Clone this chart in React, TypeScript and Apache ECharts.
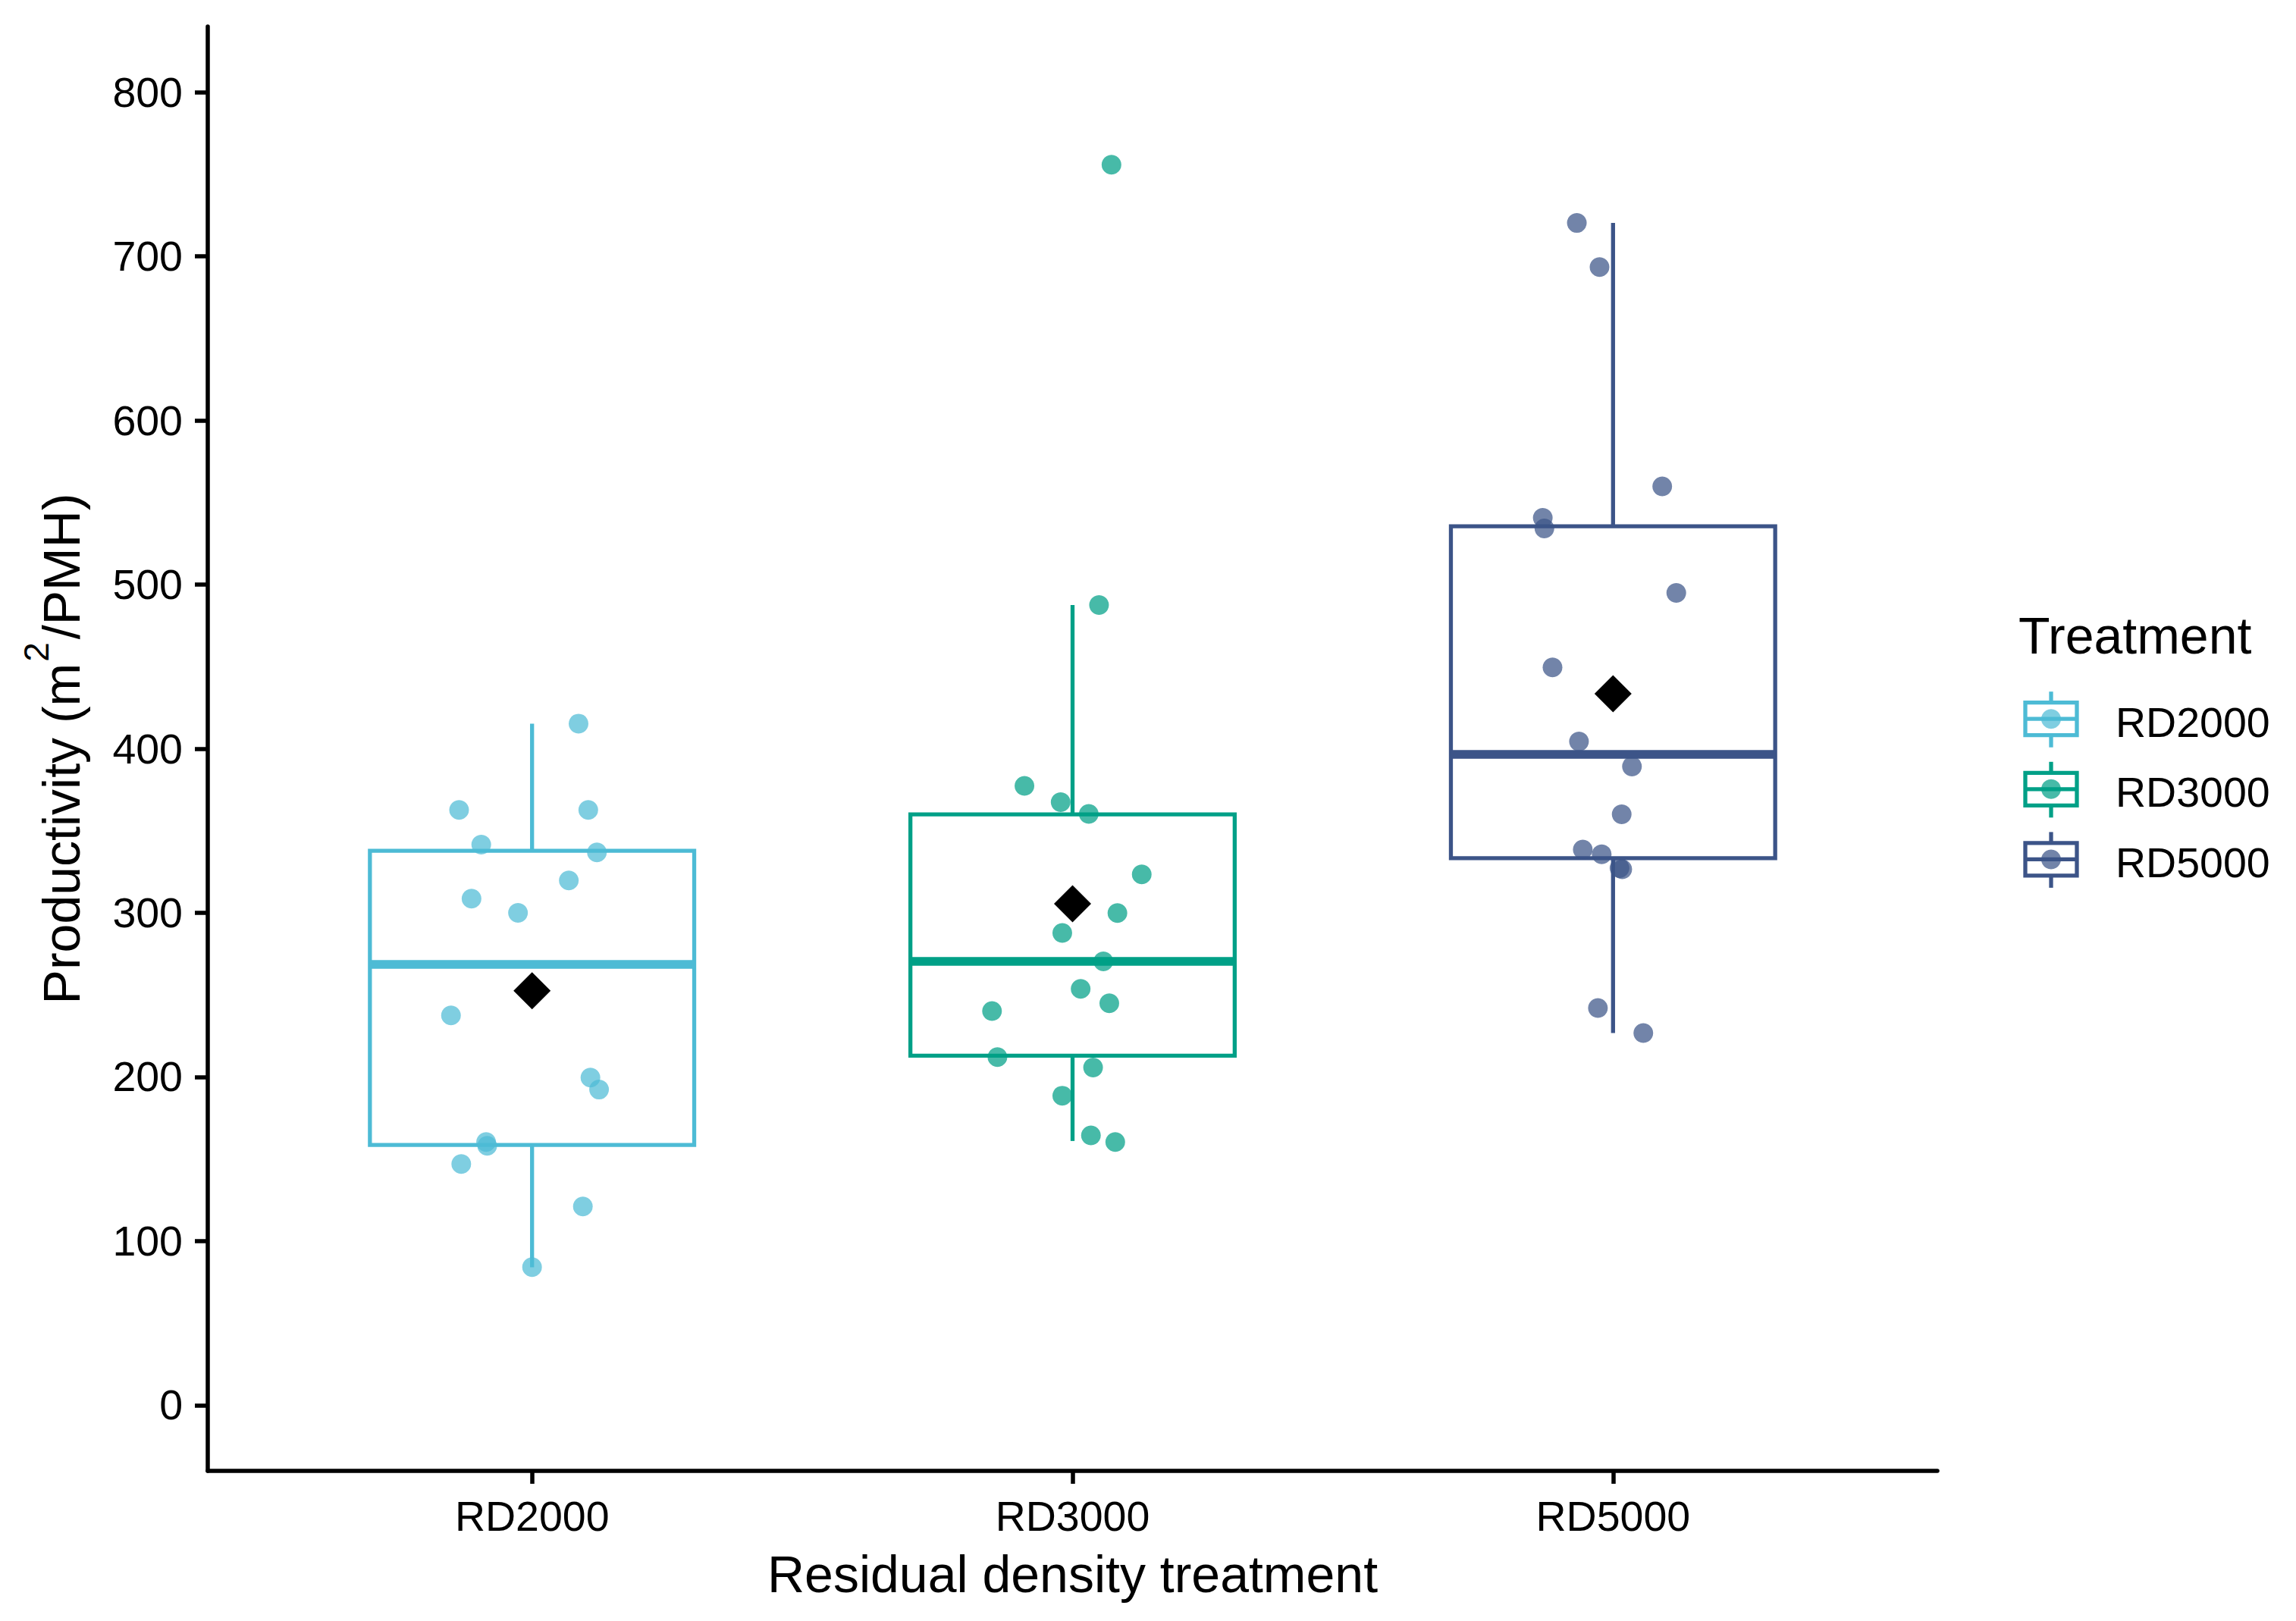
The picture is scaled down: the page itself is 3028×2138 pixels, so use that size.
import React, { useEffect, useRef } from "react";
import * as echarts from "echarts";

const FONT = '"Liberation Sans", Arial, Helvetica, sans-serif';

const categories = ["RD2000", "RD3000", "RD5000"];
const colors = ["#4DBBD5", "#00A087", "#3C5488"];
const yTicks = [0, 100, 200, 300, 400, 500, 600, 700, 800];

// box statistics: [lower whisker, Q1, median, Q3, upper whisker]
const boxRD2000 = [84, 158.6, 268.6, 337.8, 415.3];
const boxRD3000 = [161, 213, 270.4, 360, 487.5];
const boxRD5000 = [226.8, 333.3, 396.5, 535.5, 720.3];
const means = [252.5, 305.5, 433.5];

// raw observations and their horizontal jitter (category units)
const rd2000Values = [415.3, 362.7, 362.7, 341.6, 336.8, 319.7, 308.7, 300.0, 237.5, 199.6, 192.3, 160.4, 158.1, 147, 121.1, 84.2];
const rd2000Jitter = [0.086, -0.135, 0.104, -0.094, 0.12, 0.068, -0.112, -0.026, -0.15, 0.108, 0.124, -0.085, -0.083, -0.131, 0.094, 0.0];
const rd3000Values = [755.8, 487.5, 377.4, 367.4, 360.3, 323.4, 299.9, 287.8, 270.4, 253.7, 244.9, 240.2, 212.1, 205.7, 188.6, 164.4, 160.4];
const rd3000Jitter = [0.072, 0.049, -0.089, -0.022, 0.03, 0.128, 0.083, -0.019, 0.057, 0.015, 0.068, -0.149, -0.139, 0.038, -0.019, 0.034, 0.079];
const rd5000Values = [720.3, 693.4, 559.8, 540.7, 534.2, 494.9, 449.5, 404.4, 389.2, 360, 338.6, 335.7, 327.3, 326.5, 242, 226.8];
const rd5000Jitter = [-0.067, -0.025, 0.091, -0.13, -0.127, 0.117, -0.112, -0.063, 0.035, 0.016, -0.056, -0.021, 0.012, 0.017, -0.028, 0.056];

const BOX_HALF = 0.3;
const POINT_ALPHA = 0.72;

function buildOption() {
  const boxes = [boxRD2000, boxRD3000, boxRD5000];
  const boxData = boxes.map((b, i) => [i + 1, ...b]);
  const groups = [
    [rd2000Values, rd2000Jitter],
    [rd3000Values, rd3000Jitter],
    [rd5000Values, rd5000Jitter],
  ];

  const pointSeries = groups.map(([vals, jit], gi) => ({
    type: "scatter",
    name: categories[gi],
    z: 3,
    symbol: "circle",
    symbolSize: 26,
    itemStyle: { color: colors[gi], opacity: POINT_ALPHA },
    data: vals.map((v, k) => [gi + 1 + jit[k], v]),
    silent: true,
  }));

  const legendX = 2705;
  const keyCenters = [948.2, 1040.8, 1133.4];
  const legendGraphics: any[] = [
    {
      type: "text",
      z: 100,
      style: {
        text: "Treatment",
        x: 2662,
        y: 838,
        fontSize: 68,
        fontFamily: FONT,
        fill: "#000",
        align: "left",
        verticalAlign: "middle",
      },
    },
  ];
  categories.forEach((c, i) => {
    const cy = keyCenters[i];
    const col = colors[i];
    legendGraphics.push(
      { type: "line", z: 100, shape: { x1: legendX, y1: cy - 36, x2: legendX, y2: cy - 21.5 }, style: { stroke: col, lineWidth: 5.3 } },
      { type: "line", z: 100, shape: { x1: legendX, y1: cy + 21.5, x2: legendX, y2: cy + 37.5 }, style: { stroke: col, lineWidth: 5.3 } },
      { type: "rect", z: 100, shape: { x: 2671, y: cy - 21.5, width: 68, height: 43 }, style: { fill: "#fff", stroke: col, lineWidth: 5.3 } },
      { type: "line", z: 100, shape: { x1: 2671, y1: cy, x2: 2739, y2: cy }, style: { stroke: col, lineWidth: 5.3 } },
      { type: "circle", z: 101, shape: { cx: legendX, cy, r: 13 }, style: { fill: col, opacity: POINT_ALPHA } },
      {
        type: "text",
        z: 100,
        style: {
          text: c,
          x: 2790,
          y: cy + 4.3,
          fontSize: 55.5,
          fontFamily: FONT,
          fill: "#000",
          align: "left",
          verticalAlign: "middle",
        },
      }
    );
  });

  return {
    animation: false,
    backgroundColor: "#ffffff",
    grid: { left: 274, right: 473, top: 35, bottom: 198, containLabel: false },
    xAxis: {
      type: "value",
      min: 0.4,
      max: 3.6,
      name: "Residual density treatment",
      nameLocation: "middle",
      nameGap: 102,
      nameTextStyle: { fontSize: 68, fontFamily: FONT, color: "#000" },
      axisLine: { show: true, onZero: false, lineStyle: { color: "#000", width: 5.5 } },
      axisTick: { show: true, length: 17, customValues: [1, 2, 3], lineStyle: { color: "#000", width: 5.5 } },
      axisLabel: {
        show: true,
        customValues: [1, 2, 3],
        formatter: (v: number) => categories[Math.round(v) - 1] ?? "",
        margin: 32,
        fontSize: 55.5,
        fontFamily: FONT,
        color: "#000",
      },
      splitLine: { show: false },
    },
    yAxis: {
      type: "value",
      min: -40,
      max: 840,
      name: "Productivity (m{sup|2}/PMH)",
      nameLocation: "middle",
      nameGap: 136,
      nameTextStyle: {
        fontSize: 68,
        fontFamily: FONT,
        color: "#000",
        lineHeight: 68,
        rich: {
          sup: { fontSize: 46, fontFamily: FONT, color: "#000", lineHeight: 46, padding: [0, 4, 67, 2] },
        },
      },
      axisLine: { show: true, onZero: false, lineStyle: { color: "#000", width: 5.5 } },
      axisTick: { show: true, length: 17, customValues: yTicks, lineStyle: { color: "#000", width: 5.5 } },
      axisLabel: {
        show: true,
        customValues: yTicks,
        margin: 33,
        fontSize: 55.5,
        fontFamily: FONT,
        color: "#000",
        padding: [8, 0, 0, 0],
      },
      splitLine: { show: false },
    },
    graphic: legendGraphics,
    series: [
      {
        type: "custom",
        z: 2,
        silent: true,
        data: boxData,
        encode: { x: 0, y: [1, 2, 3, 4, 5] },
        renderItem: (params: any, api: any) => {
          const x = api.value(0);
          const lo = api.value(1);
          const q1 = api.value(2);
          const med = api.value(3);
          const q3 = api.value(4);
          const hi = api.value(5);
          const col = colors[params.dataIndex];
          const pHi = api.coord([x, hi]);
          const pQ3 = api.coord([x, q3]);
          const pQ1 = api.coord([x, q1]);
          const pLo = api.coord([x, lo]);
          const tl = api.coord([x - BOX_HALF, q3]);
          const br = api.coord([x + BOX_HALF, q1]);
          const mL = api.coord([x - BOX_HALF, med]);
          const mR = api.coord([x + BOX_HALF, med]);
          return {
            type: "group",
            children: [
              { type: "line", shape: { x1: pHi[0], y1: pHi[1], x2: pQ3[0], y2: pQ3[1] }, style: { stroke: col, lineWidth: 5.3 } },
              { type: "line", shape: { x1: pQ1[0], y1: pQ1[1], x2: pLo[0], y2: pLo[1] }, style: { stroke: col, lineWidth: 5.3 } },
              {
                type: "rect",
                shape: { x: tl[0], y: tl[1], width: br[0] - tl[0], height: br[1] - tl[1] },
                style: { fill: "#fff", stroke: col, lineWidth: 5.3 },
              },
              { type: "line", shape: { x1: mL[0], y1: mL[1], x2: mR[0], y2: mR[1] }, style: { stroke: col, lineWidth: 11.5 } },
            ],
          };
        },
      },
      ...pointSeries,
      {
        type: "scatter",
        name: "mean",
        z: 4,
        silent: true,
        symbol: "diamond",
        symbolSize: 49,
        itemStyle: { color: "#000", opacity: 1 },
        data: means.map((m, i) => [i + 1, m]),
      },
    ],
  };
}

export default function App() {
  const ref = useRef<HTMLDivElement>(null);
  useEffect(() => {
    if (!ref.current) return;
    const chart = echarts.init(ref.current, null, { renderer: "svg" });
    chart.setOption(buildOption() as any);
    return () => chart.dispose();
  }, []);
  return (
    <div
      ref={ref}
      style={{ position: "fixed", left: 0, top: 0, width: 3028, height: 2138, background: "#fff" }}
    />
  );
}
